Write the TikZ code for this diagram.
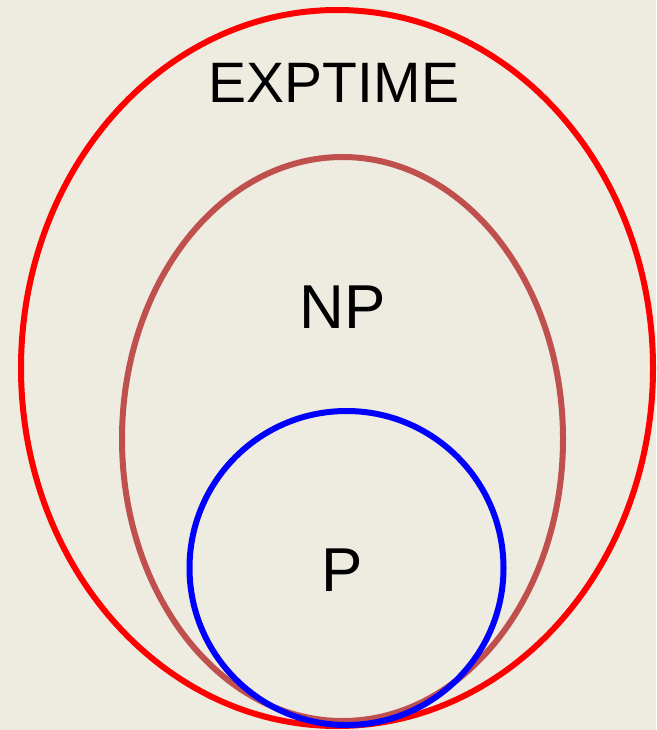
\documentclass[tikz,border=0pt]{standalone}
\usepackage{fontspec}
\setmainfont{Liberation Sans}
\definecolor{bgbeige}{HTML}{EEEBE0}
\definecolor{npbrown}{HTML}{C0504D}
\tikzset{
	classline/.style={line width=6pt},
	classlabel/.style={inner sep=0pt, font=\fontsize{62}{66}\selectfont}
}
\begin{document}
\begin{tikzpicture}[x=1pt, y=-1pt]
			% background
			\fill[bgbeige] (0,0) rectangle (656,730);
			\useasboundingbox (0,0) rectangle (656,730);
			
			% EXPTIME
			\draw[classline, red] (337,368) ellipse [x radius=316, y radius=358];
			% NP
			\draw[classline, npbrown] (342.5,439) ellipse [x radius=220.5, y radius=282];
			% P
			\draw[classline, blue] (346.5,568) circle [radius=157];
			
			% labels
			\node[classlabel, font=\fontsize{57}{60}\selectfont] (exptime) at (334,83) {EXPTIME};
			\node[classlabel] (np) at (343,307.5) {NP};
			\node[classlabel] (p) at (342.5,570) {P};
		\end{tikzpicture}
\end{document}
